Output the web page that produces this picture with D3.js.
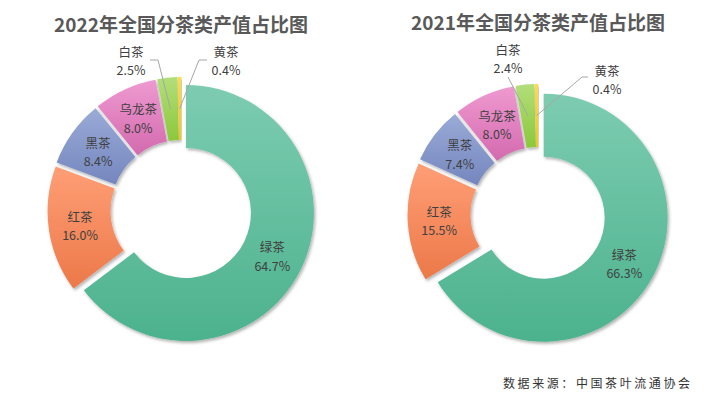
<!DOCTYPE html>
<html>
<head>
<meta charset="utf-8">
<script src="https://cdn.jsdelivr.net/npm/d3@7"></script>
<style>
  body { margin: 0; background: #fff; }
  text { font-family: "Noto Sans CJK SC", "Noto Sans", sans-serif; }
</style>
</head>
<body>
<script>
// data
const categories = ["绿茶", "红茶", "黑茶", "乌龙茶", "白茶", "黄茶"];
const values2022 = [64.7, 16.0, 8.4, 8.0, 2.5, 0.4];
const values2021 = [66.3, 15.5, 7.4, 8.0, 2.4, 0.4];
const titles = ["2022年全国分茶类产值占比图", "2021年全国分茶类产值占比图"];
const sourceNote = "数据来源：中国茶叶流通协会";

// top / bottom of each slice gradient
const colors = [
  ["#7dccb1", "#4cb28e"],
  ["#ff9e76", "#ec7949"],
  ["#9aabd7", "#7486be"],
  ["#ef9ad0", "#d36aaf"],
  ["#b2de7a", "#8cc83b"],
  ["#ffdc45", "#f7c600"]
];

const width = 721, height = 398;

// layout of the two donuts
const charts = [
  {
    values: values2022, title: titles[0],
    cx: 181, cy: 210.5, R: 128, r: 65, explode: 5.5, titleY: 32,
    outside: {
      4: { x: 131, y: 60, elbow: [158, 60], end: [150, 60] },
      5: { x: 226, y: 60, elbow: [199, 60], end: [207, 60] }
    }
  },
  {
    values: values2021, title: titles[1],
    cx: 538, cy: 214.5, R: 124, r: 61, explode: 6.5, titleY: 30,
    outside: {
      4: { x: 508, y: 58, elbow: [508, 77], end: [508, 77] },
      5: { x: 607, y: 79, elbow: [582, 77], end: [588, 77] }
    }
  }
];

const svg = d3.select("body").append("svg")
  .attr("width", width)
  .attr("height", height);

const defs = svg.append("defs");

colors.forEach((c, i) => {
  const g = defs.append("linearGradient")
    .attr("id", "grad" + i)
    .attr("x1", 0).attr("y1", 0).attr("x2", 0).attr("y2", 1);
  g.append("stop").attr("offset", "0%").attr("stop-color", c[0]);
  g.append("stop").attr("offset", "100%").attr("stop-color", c[1]);
});

const shadow = defs.append("filter")
  .attr("id", "shadow")
  .attr("x", "-20%").attr("y", "-20%")
  .attr("width", "140%").attr("height", "140%");
shadow.append("feDropShadow")
  .attr("dx", 1.5).attr("dy", 2)
  .attr("stdDeviation", 1.6)
  .attr("flood-color", "#000")
  .attr("flood-opacity", 0.3);

const pie = d3.pie().sort(null).value(d => d);

charts.forEach(ch => {
  const arc = d3.arc().innerRadius(ch.r).outerRadius(ch.R);
  const labelArc = d3.arc().innerRadius((ch.R + ch.r) / 2).outerRadius((ch.R + ch.r) / 2);
  const arcs = pie(ch.values);

  const offset = a => {
    const mid = (a.startAngle + a.endAngle) / 2;
    return [ch.explode * Math.sin(mid), -ch.explode * Math.cos(mid)];
  };

  svg.append("text")
    .attr("x", ch.cx)
    .attr("y", ch.titleY)
    .attr("text-anchor", "middle")
    .attr("font-size", 19)
    .attr("font-weight", "bold")
    .attr("fill", "#595959")
    .text(ch.title);

  const g = svg.append("g")
    .attr("transform", `translate(${ch.cx},${ch.cy})`);

  g.selectAll("path.slice")
    .data(arcs)
    .join("path")
    .attr("class", "slice")
    .attr("transform", d => `translate(${offset(d)})`)
    .attr("d", arc)
    .attr("fill", (d, i) => `url(#grad${i})`)
    .attr("filter", "url(#shadow)");

  arcs.forEach((a, i) => {
    const [ox, oy] = offset(a);
    const [lx, ly] = labelArc.centroid(a);
    const out = ch.outside[i];
    let tx, ty;
    if (out) {
      // leader line from slice middle to the label
      const pts = [[ch.cx + ox + lx, ch.cy + oy + ly], out.elbow, out.end];
      svg.append("path")
        .attr("d", d3.line()(pts))
        .attr("fill", "none")
        .attr("stroke", "#a6a6a6")
        .attr("stroke-width", 1);
      tx = out.x; ty = out.y;
    } else {
      tx = ch.cx + ox + lx; ty = ch.cy + oy + ly;
    }
    const lines = [categories[i], ch.values[i].toFixed(1) + "%"];
    lines.forEach((s, k) => {
      svg.append("text")
        .attr("x", tx)
        .attr("y", ty + (k === 0 ? -9 : 9.5))
        .attr("text-anchor", "middle")
        .attr("dominant-baseline", "central")
        .attr("font-size", 12.5)
        .attr("fill", "#404040")
        .text(s);
    });
  });
});

svg.append("text")
  .attr("x", 503)
  .attr("y", 388)
  .attr("font-size", 12)
  .attr("fill", "#333")
  .attr("textLength", 187)
  .attr("lengthAdjust", "spacing")
  .text(sourceNote);
</script>
</body>
</html>
